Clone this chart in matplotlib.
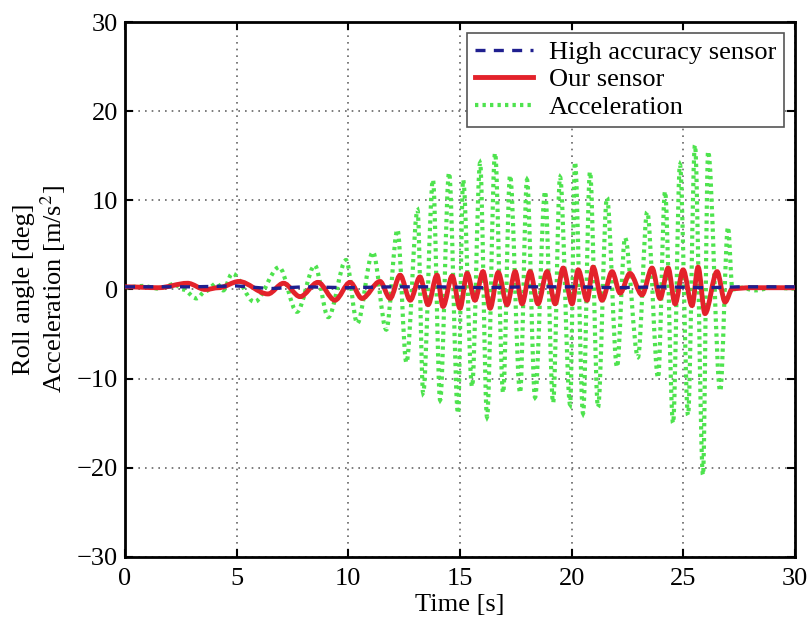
import matplotlib
matplotlib.use("Agg")
import matplotlib.pyplot as plt
from matplotlib.path import Path
from matplotlib.patches import PathPatch
from matplotlib.lines import Line2D

plt.rcParams['font.family'] = ['Liberation Serif', 'DejaVu Serif']
plt.rcParams['mathtext.fontset'] = 'stix'

# Acceleration extrema (time [s], value [m/s^2])
acc_t = [0.0, 0.8, 1.5, 2.2, 2.6, 3.2, 3.6, 4.1, 4.4, 4.8, 5.8, 6.9, 7.7, 8.5,
         9.1, 9.9, 10.4, 11.1, 11.7, 12.2, 12.6, 13.1, 13.35, 13.79, 14.11,
         14.51, 14.91, 15.14, 15.54, 15.90, 16.21, 16.57, 16.93, 17.24, 17.69,
         18.00, 18.36, 18.81, 19.17, 19.48, 19.93, 20.15, 20.51, 20.82, 21.18,
         21.58, 22.03, 22.39, 22.97, 23.38, 23.87, 24.18, 24.54, 24.85, 25.21,
         25.52, 25.88, 26.11, 26.65, 27.00, 27.2, 27.6, 28.2, 29.0, 30.0]
acc_v = [0.2, 0.4, 0.1, 0.6, 0.0, -1.0, -0.2, 0.7, -0.1, 1.8, -1.4, 2.5, -2.5, 2.7,
         -3.1, 3.3, -3.8, 4.2, -4.5, 6.7, -8.2, 8.9, -11.6, 12.3, -12.4,
         13.1, -13.9, 12.3, -10.9, 14.2, -14.3, 15.3, -11.6, 12.8, -11.6,
         12.3, -12.1, 11.0, -12.7, 12.6, -12.9, 14.3, -13.9, 13.2, -13.2,
         10.3, -8.7, 5.8, -7.6, 8.7, -9.9, 11.0, -15.0, 14.0, -14.1,
         16.2, -20.8, 15.5, -11.4, 7.0, 0.0, 0.2, -0.1, 0.2, 0.1]

# Our sensor (roll angle [deg]) extrema
ours_t = [0.0, 1.5, 2.8, 3.6, 4.2, 5.1, 6.4, 7.1, 7.84, 8.64, 9.40, 10.08, 10.61,
          11.42, 11.87, 12.32, 12.77, 13.21, 13.57, 13.97, 14.24, 14.65, 15.00,
          15.32, 15.67, 16.03, 16.35, 16.71, 17.11, 17.47, 17.78, 18.14, 18.49,
          18.90, 19.26, 19.62, 20.02, 20.29, 20.69, 20.96, 21.36, 21.81, 22.17,
          22.61, 23.15, 23.60, 23.96, 24.32, 24.63, 24.99, 25.39, 25.66, 25.97,
          26.51, 26.87, 27.2, 28.0, 30.0]
ours_v = [0.3, 0.2, 0.7, 0.0, 0.2, 0.9, -0.5, 0.7, -0.8, 0.8, -1.2, 0.8, -1.0,
          0.9, -1.0, 1.6, -1.2, 1.4, -1.7, 1.6, -1.9, 1.5, -2.1,
          1.8, -1.2, 2.0, -2.1, 1.9, -1.7, 2.0, -1.6, 2.0, -1.6,
          2.0, -1.6, 2.4, -1.6, 2.2, -1.2, 2.5, -1.2, 2.0, -0.4,
          1.8, -0.6, 2.4, -1.0, 2.4, -1.6, 2.2, -1.8, 2.5, -2.7,
          2.0, -1.4, 0.1, 0.2, 0.2]

# High accuracy sensor
ref_t = [0.0, 3.0, 5.0, 6.5, 8.0, 10.0, 12.0, 14.0, 16.0, 18.0, 20.0, 22.0, 24.0,
         26.0, 27.5, 30.0]
ref_v = [0.3, 0.3, 0.4, 0.1, 0.3, 0.2, 0.3, 0.3, 0.2, 0.3, 0.3, 0.2, 0.3,
         0.2, 0.3, 0.3]


def smooth_path(t, v):
    # cubic segments with flat tangents at each extremum
    verts = [(t[0], v[0])]
    codes = [Path.MOVETO]
    for i in range(len(t) - 1):
        dt = t[i + 1] - t[i]
        verts += [(t[i] + dt / 3, v[i]), (t[i + 1] - dt / 3, v[i + 1]),
                  (t[i + 1], v[i + 1])]
        codes += [Path.CURVE4] * 3
    return Path(verts, codes)


fig, ax = plt.subplots(figsize=(8.09, 6.29), dpi=100)
fig.subplots_adjust(left=0.1545, right=0.9827, bottom=0.1145, top=0.965)

green = '#4ee34e'
red = '#e3222b'
blue = '#1f1f8f'
green_ls = (0, (0.8, 1.0))

ax.add_patch(PathPatch(smooth_path(acc_t, acc_v), fill=False, edgecolor=green,
                       lw=3.0, linestyle=green_ls, zorder=2))
ax.add_patch(PathPatch(smooth_path(ours_t, ours_v), fill=False, edgecolor=red,
                       lw=3.5, zorder=3))
ax.plot(ref_t, ref_v, color=blue, lw=2.4, linestyle=(0, (3, 2.5)), zorder=4)

ax.set_xlim(0, 30)
ax.set_ylim(-30, 30)
ax.set_xticks(range(0, 31, 5))
ax.set_yticks(range(-30, 31, 10))
ax.set_yticklabels(['\u221230', '\u221220', '\u221210', '0', '10', '20', '30'])
ax.tick_params(direction='in', top=True, right=True, length=6, width=1.5,
               labelsize=19)
ax.tick_params(axis='x', pad=8)
ax.tick_params(axis='y', pad=5)
ax.grid(True, color='#666666', linestyle=(0, (1, 3)), lw=1.2)
for s in ax.spines.values():
    s.set_linewidth(2)

ax.set_xlabel('Time [s]', fontsize=19, labelpad=3)
ax.set_ylabel('Roll angle [deg]\nAcceleration [m/s$^2$]', fontsize=19,
              labelpad=6, linespacing=1.15)

handles = [Line2D([], [], color=blue, lw=2.4, linestyle=(0, (3, 2.5))),
           Line2D([], [], color=red, lw=3.5),
           Line2D([], [], color=green, lw=3.0, linestyle=green_ls)]
leg = ax.legend(handles, ['High accuracy sensor', 'Our sensor', 'Acceleration'],
                loc='upper right', fontsize=19, fancybox=False, framealpha=1,
                edgecolor='#555555', handlelength=2.2, borderaxespad=0.4,
                labelspacing=0.15, borderpad=0.3, handletextpad=0.6)
leg.get_frame().set_linewidth(1.2)

fig.savefig('out.png', dpi=100)
